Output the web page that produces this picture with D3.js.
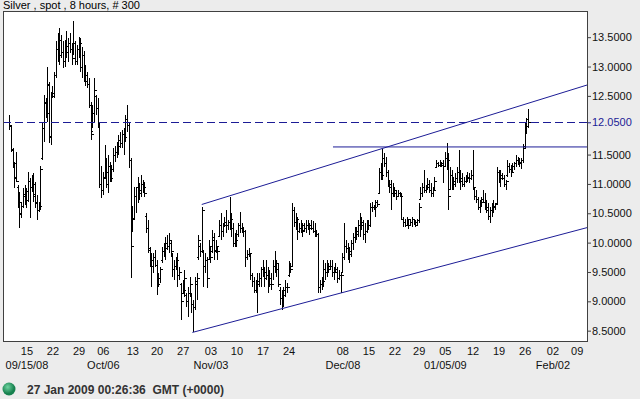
<!DOCTYPE html>
<html>
<head>
<meta charset="utf-8">
<script src="https://cdn.jsdelivr.net/npm/d3@7"></script>
<style>
  body { margin: 0; background: #ececec; }
  svg text { font-family: "Liberation Sans", Arial, sans-serif; }
</style>
</head>
<body>
<svg id="graf" width="640" height="399"></svg>
<script>
// datos: barras de 8 horas (indice de barra 0..299)
const hi = [
  12.18,12.01,11.61,11.38,11.55,10.98,10.87,10.70,10.93,10.98,
  10.93,11.21,11.10,11.15,11.18,11.04,10.81,10.70,11.30,12.06,
  12.52,12.46,13.00,12.74,12.57,12.66,12.91,13.43,13.57,13.65,
  13.54,13.43,13.45,13.60,13.48,13.57,13.40,13.77,13.43,13.37,
  13.51,13.48,13.34,13.26,13.03,12.91,12.80,12.40,12.35,12.80,
  12.52,12.46,12.06,11.30,11.21,11.66,11.44,11.49,11.38,11.32,
  11.61,11.64,11.72,11.83,11.89,11.92,11.95,12.17,12.35,12.06,
  11.44,10.62,10.95,10.95,11.12,11.01,11.15,11.07,11.04,10.50,
  10.39,9.93,9.82,9.82,9.88,9.70,9.48,9.59,9.93,9.99,
  10.10,10.13,10.16,10.04,9.82,9.70,9.76,9.82,9.59,9.31,
  9.36,9.53,9.14,9.25,9.42,9.14,9.02,9.42,9.48,10.13,
  9.99,10.61,9.88,9.82,9.76,10.04,9.93,10.22,10.16,10.04,
  9.93,10.39,10.50,10.33,10.44,10.56,10.39,10.78,10.50,10.33,
  10.16,10.22,10.33,10.53,10.33,10.27,10.22,9.88,9.90,9.82,
  9.48,9.42,9.36,9.48,9.48,9.59,9.70,9.59,9.70,9.59,
  9.53,9.48,9.70,9.85,9.70,9.65,9.25,9.19,9.25,9.36,
  9.31,9.68,9.65,10.67,10.61,10.50,10.44,10.33,10.39,10.33,
  10.33,10.39,10.39,10.33,10.39,10.36,10.33,10.22,10.16,9.36,
  9.42,9.70,9.65,9.70,9.65,9.70,9.70,9.59,9.65,9.59,
  9.53,9.48,9.82,10.33,10.04,9.99,9.93,10.04,10.16,10.27,
  10.27,10.39,10.50,10.44,10.39,10.33,10.39,10.39,10.67,10.70,
  10.64,10.73,10.73,11.27,11.35,11.59,11.52,11.46,11.24,11.07,
  11.07,11.01,10.95,10.90,10.90,10.87,10.84,10.44,10.41,10.44,
  10.39,10.41,10.44,10.41,10.39,10.41,10.67,10.95,11.01,11.24,
  10.98,11.10,11.07,11.01,10.95,11.12,11.41,11.38,11.41,11.38,
  11.41,11.55,11.69,11.52,11.29,11.24,11.12,11.18,11.29,11.58,
  11.24,11.18,11.12,11.15,11.21,11.18,11.24,11.58,10.95,10.90,
  10.78,10.73,10.78,10.90,10.84,10.73,10.67,10.61,10.67,10.73,
  10.67,11.29,11.24,11.24,11.18,11.15,11.07,11.41,11.35,11.32,
  11.35,11.38,11.49,11.46,11.44,11.45,11.68,12.05,12.12,12.28
]
const lo = [
  11.92,11.55,11.27,10.93,11.04,10.59,10.25,10.42,10.59,10.64,
  10.59,10.70,10.42,10.87,10.70,10.59,10.39,10.53,10.56,11.41,
  11.72,12.12,12.06,11.69,11.66,12.46,12.46,12.80,13.08,13.03,
  13.14,12.97,13.00,13.14,13.08,13.23,13.03,13.20,13.03,13.03,
  13.14,12.91,12.80,12.74,12.66,12.63,12.29,11.75,11.95,12.06,
  12.18,11.95,10.93,10.76,10.81,11.10,10.93,10.84,11.04,11.04,
  11.21,11.38,11.44,11.49,11.61,11.61,11.49,11.72,11.89,11.27,
  9.39,10.18,10.39,10.50,10.67,10.73,10.78,10.84,10.78,10.16,
  9.82,9.59,9.25,9.48,9.59,9.11,9.25,9.31,9.65,9.76,
  9.70,9.88,9.82,9.76,9.42,9.36,9.53,9.25,9.36,8.68,
  9.14,9.08,8.91,8.74,9.08,8.80,8.48,8.85,9.02,9.70,
  9.76,9.82,9.25,9.48,9.22,9.70,9.65,9.82,9.70,9.82,
  9.70,10.10,10.04,10.10,10.27,10.16,10.22,10.22,10.10,9.93,
  9.93,9.93,10.10,10.16,10.16,10.10,9.59,9.70,9.76,9.36,
  9.25,9.14,9.14,8.80,9.25,9.25,9.42,9.25,9.36,9.14,
  9.25,9.19,9.36,9.48,9.42,9.25,8.94,8.85,8.91,9.08,
  9.14,9.42,9.48,9.59,10.27,10.22,10.04,10.16,10.16,10.10,
  10.22,10.16,10.22,10.13,10.22,10.16,10.10,10.10,9.14,9.14,
  9.19,9.25,9.36,9.42,9.48,9.53,9.42,9.36,9.48,9.31,
  9.36,9.14,9.48,9.70,9.82,9.70,9.65,9.76,9.88,9.99,
  10.04,10.10,10.10,10.22,10.04,9.99,10.16,10.22,10.27,10.53,
  10.56,10.44,10.61,10.84,11.07,11.07,11.29,11.12,10.95,10.84,
  10.56,10.78,10.78,10.73,10.78,10.78,10.39,10.27,10.27,10.30,
  10.24,10.30,10.27,10.30,10.27,10.30,10.33,10.73,10.78,10.84,
  10.84,10.90,10.84,10.78,10.78,10.90,11.27,11.29,11.29,11.29,
  11.01,11.29,11.24,10.56,10.90,10.90,10.90,10.95,11.01,11.01,
  10.90,10.95,10.95,11.01,11.04,11.01,11.07,10.90,10.73,10.67,
  10.56,10.50,10.61,10.67,10.56,10.50,10.39,10.33,10.44,10.50,
  10.56,10.67,11.01,10.95,11.07,10.95,10.90,11.12,11.18,11.12,
  11.18,11.24,11.29,11.32,11.29,11.25,11.35,11.62,11.85,11.95
]
const op = [
  12.05,11.98,11.58,11.33,11.12,10.95,10.72,10.48,10.62,10.82,
  10.70,10.88,11.05,10.95,11.02,10.82,10.68,10.56,10.62,11.45,
  11.95,12.38,12.20,12.68,11.82,12.50,12.55,12.85,13.30,13.22,
  13.45,13.25,13.10,13.35,13.25,13.40,13.30,13.15,13.40,13.10,
  13.30,13.40,13.00,13.20,12.85,12.75,12.70,12.35,11.90,12.20,
  12.50,12.30,12.05,11.00,10.90,11.12,11.20,11.00,11.30,11.10,
  11.25,11.50,11.55,11.65,11.75,11.70,11.85,11.80,12.10,12.00,
  11.40,10.20,10.42,10.80,10.95,10.85,10.90,11.00,10.95,10.45,
  10.25,9.88,9.70,9.60,9.75,9.62,9.30,9.40,9.70,9.85,
  9.90,10.00,9.95,10.00,9.80,9.55,9.60,9.70,9.45,9.30,
  9.15,9.20,9.10,9.00,9.15,9.10,8.95,8.90,9.30,9.75,
  9.95,9.85,9.85,9.60,9.70,9.72,9.90,9.85,10.05,9.88,
  9.90,10.12,10.30,10.20,10.30,10.35,10.30,10.35,10.40,10.25,
  10.00,10.05,10.15,10.30,10.25,10.20,10.20,9.75,9.80,9.80,
  9.45,9.35,9.20,9.30,9.35,9.40,9.55,9.50,9.40,9.45,
  9.30,9.40,9.30,9.60,9.65,9.55,9.20,9.05,9.10,9.20,
  9.25,9.45,9.60,9.60,10.55,10.35,10.40,10.20,10.25,10.30,
  10.22,10.25,10.30,10.25,10.30,10.25,10.20,10.15,10.15,9.25,
  9.30,9.35,9.55,9.50,9.60,9.55,9.60,9.50,9.50,9.55,
  9.40,9.45,9.50,9.75,9.95,9.90,9.80,9.85,10.00,10.10,
  10.15,10.20,10.30,10.35,10.30,10.15,10.20,10.30,10.30,10.60,
  10.60,10.60,10.70,10.85,11.20,11.15,11.45,11.35,11.20,11.00,
  10.95,10.85,10.90,10.85,10.80,10.85,10.80,10.40,10.35,10.30,
  10.38,10.30,10.35,10.40,10.35,10.30,10.38,10.75,10.85,10.95,
  10.90,10.95,11.00,10.90,10.85,10.90,11.28,11.35,11.32,11.35,
  11.32,11.30,11.45,11.40,10.92,11.15,11.00,11.05,11.10,11.20,
  11.10,11.05,11.00,11.05,11.10,11.12,11.10,11.15,10.93,10.80,
  10.75,10.60,10.70,10.75,10.70,10.60,10.55,10.45,10.55,10.60,
  10.62,10.68,11.20,11.10,11.15,11.10,11.00,11.15,11.30,11.25,
  11.20,11.30,11.35,11.40,11.38,11.35,11.40,11.65,11.98,12.10
]
const cl = [
  12.00,11.60,11.35,11.10,11.05,10.70,10.50,10.62,10.80,10.72,
  10.88,11.05,10.95,11.00,10.80,10.70,10.55,10.62,11.25,11.95,
  12.40,12.20,12.70,11.80,12.50,12.55,12.85,13.30,13.20,13.45,
  13.25,13.10,13.35,13.25,13.40,13.30,13.15,13.40,13.10,13.30,
  13.40,13.00,13.20,12.85,12.75,12.70,12.35,11.85,12.20,12.60,
  12.30,12.05,11.00,10.90,11.10,11.20,11.00,11.30,11.10,11.25,
  11.50,11.55,11.65,11.75,11.70,11.85,11.80,12.10,12.00,11.40,
  9.95,10.40,10.80,10.95,10.85,10.90,11.00,10.95,10.85,10.25,
  9.90,9.70,9.60,9.75,9.62,9.30,9.40,9.55,9.85,9.90,
  10.00,9.95,10.05,9.85,9.55,9.60,9.70,9.45,9.50,9.00,
  9.20,9.40,9.00,9.15,9.30,8.95,8.90,9.35,9.40,10.05,
  9.85,10.55,9.60,9.70,9.40,9.95,9.75,10.10,9.85,9.95,
  9.85,10.30,10.20,10.30,10.35,10.30,10.35,10.40,10.25,10.00,
  10.05,10.15,10.30,10.25,10.20,10.20,9.75,9.80,9.82,9.45,
  9.35,9.20,9.30,9.35,9.40,9.55,9.50,9.40,9.45,9.30,
  9.40,9.30,9.60,9.65,9.55,9.30,9.05,9.10,9.20,9.25,
  9.25,9.60,9.55,10.55,10.35,10.40,10.20,10.25,10.30,10.20,
  10.25,10.30,10.25,10.30,10.25,10.20,10.15,10.15,9.25,9.30,
  9.35,9.55,9.50,9.60,9.55,9.60,9.50,9.50,9.55,9.40,
  9.45,9.45,9.75,9.95,9.90,9.80,9.85,10.00,10.10,10.15,
  10.20,10.30,10.35,10.30,10.15,10.20,10.30,10.30,10.60,10.60,
  10.60,10.70,10.65,11.20,11.15,11.45,11.35,11.20,11.00,10.95,
  10.85,10.90,10.85,10.80,10.85,10.80,10.40,10.35,10.30,10.40,
  10.30,10.35,10.40,10.35,10.30,10.38,10.60,10.85,10.95,10.90,
  10.95,11.00,10.90,10.85,10.90,11.05,11.35,11.32,11.35,11.32,
  11.30,11.45,11.40,10.80,11.15,11.00,11.05,11.10,11.20,11.10,
  11.05,11.00,11.05,11.10,11.12,11.10,11.15,10.95,10.80,10.75,
  10.60,10.70,10.75,10.70,10.60,10.55,10.45,10.55,10.60,10.62,
  10.65,11.20,11.10,11.15,11.10,11.00,11.05,11.30,11.25,11.20,
  11.30,11.35,11.40,11.38,11.35,11.40,11.62,11.98,12.10,12.05
]

// etiquetas del eje x (indice de barra del lunes)
const weekIdx    = [10, 25, 40, 54, 71, 85, 100, 116, 131, 146, 161, 192, 207, 222, 236, 251, 267, 282, 297, 313, 327]
const weekLabels = ['15','22','29','06','13','20','27','03','10','17','24','08','15','22','29','05','12','19','26','02','09']
const monthIdx    = [10, 54, 116, 192, 251, 313]
const monthLabels = ['09/15/08', 'Oct/06', 'Nov/03', 'Dec/08', '01/05/09', 'Feb/02']

const yTicks = [8.5, 9, 9.5, 10, 10.5, 11, 11.5, 12.5, 13, 13.5]

// lineas dibujadas sobre el grafico [indice, precio]
const canalSup  = [[111, 10.65], [333.5, 12.69]]
const canalInf  = [[105.6, 8.47], [333.5, 10.26]]
const resist    = [[186.6, 11.63], [333.5, 11.63]]
const ultimo    = 12.05

const titulo = 'Silver , spot , 8 hours, # 300'
const fecha  = '27 Jan 2009 00:26:36  GMT (+0000)'

// I. Configuracion
const svg = d3.select('#graf')
const margins = { top: 11, left: 3, right: 52, bottom: 57 }
const ancho = 640 - margins.left - margins.right
const alto  = 399 - margins.top - margins.bottom

const bars = hi.map((h, i) => ({ i, h, l: lo[i], o: op[i], c: cl[i] }))

const x = d3.scaleLinear().domain([-3.5, 333.5]).range([0, ancho])
const y = d3.scaleLinear().domain([8.307, 13.946]).range([alto, 0])

const azul = '#1c1c96'

svg.append('text')
   .attr('x', 3).attr('y', 9)
   .style('font-size', '11px')
   .attr('fill', '#000')
   .text(titulo)

const g = svg.append('g')
             .attr('transform', `translate(${margins.left}, ${margins.top})`)

g.append('rect')
 .attr('width', ancho).attr('height', alto)
 .attr('fill', '#fff')

// II. Barras OHLC
const ohlc = g.append('g')
              .attr('stroke', '#000')
              .attr('stroke-width', 1)
              .attr('shape-rendering', 'crispEdges')

ohlc.selectAll('line.hl')
    .data(bars)
    .enter().append('line')
      .attr('class', 'hl')
      .attr('x1', d => Math.round(x(d.i)) + 0.5)
      .attr('x2', d => Math.round(x(d.i)) + 0.5)
      .attr('y1', d => y(d.h))
      .attr('y2', d => y(d.l))

ohlc.selectAll('line.o')
    .data(bars)
    .enter().append('line')
      .attr('class', 'o')
      .attr('x1', d => Math.round(x(d.i)) - 1.5)
      .attr('x2', d => Math.round(x(d.i)) + 0.5)
      .attr('y1', d => Math.round(y(d.o)) + 0.5)
      .attr('y2', d => Math.round(y(d.o)) + 0.5)

ohlc.selectAll('line.c')
    .data(bars)
    .enter().append('line')
      .attr('class', 'c')
      .attr('x1', d => Math.round(x(d.i)) + 0.5)
      .attr('x2', d => Math.round(x(d.i)) + 2.5)
      .attr('y1', d => Math.round(y(d.c)) + 0.5)
      .attr('y2', d => Math.round(y(d.c)) + 0.5)

// III. Lineas de tendencia
const linea = d3.line().x(d => x(d[0])).y(d => y(d[1]))
;[canalSup, canalInf, resist].forEach(pts => {
  g.append('path')
   .attr('d', linea(pts))
   .attr('fill', 'none')
   .attr('stroke', azul)
   .attr('stroke-width', 1)
})

g.append('line')
 .attr('x1', 0).attr('x2', ancho)
 .attr('y1', Math.round(y(ultimo)) + 0.5).attr('y2', Math.round(y(ultimo)) + 0.5)
 .attr('stroke', azul)
 .attr('stroke-dasharray', '8,4')

// marco
g.append('rect')
 .attr('x', 0.5).attr('y', 0.5)
 .attr('width', ancho - 1).attr('height', alto - 1)
 .attr('fill', 'none')
 .attr('stroke', '#404040')

// IV. Ejes
const yAxis = g.append('g')
               .attr('transform', `translate(${ancho}, 0)`)
               .call(d3.axisRight(y).tickValues(yTicks).tickFormat(d3.format('.4f'))
                       .tickSize(3).tickPadding(1))
yAxis.select('.domain').remove()
yAxis.selectAll('line').attr('stroke', '#404040')
yAxis.selectAll('text')
     .style('font-size', '11px')
     .attr('fill', '#111')

const yUlt = g.append('g')
              .attr('transform', `translate(${ancho}, 0)`)
              .call(d3.axisRight(y).tickValues([ultimo]).tickFormat(d3.format('.4f'))
                      .tickSize(3).tickPadding(1))
yUlt.select('.domain').remove()
yUlt.selectAll('line').attr('stroke', azul)
yUlt.selectAll('text')
    .style('font-size', '11px')
    .attr('fill', azul)

const xAxis = g.append('g')
               .attr('transform', `translate(0, ${alto})`)
               .call(d3.axisBottom(x).tickValues(weekIdx)
                       .tickFormat((d, k) => weekLabels[k])
                       .tickSize(0).tickPadding(5))
xAxis.select('.domain').remove()
xAxis.selectAll('text')
     .style('font-size', '11px')
     .attr('fill', '#111')

const xMes = g.append('g')
              .attr('transform', `translate(0, ${alto + 14})`)
              .call(d3.axisBottom(x).tickValues(monthIdx)
                      .tickFormat((d, k) => monthLabels[k])
                      .tickSize(0).tickPadding(5))
xMes.select('.domain').remove()
xMes.selectAll('text')
    .style('font-size', '11px')
    .attr('fill', '#111')

// V. Pie
const grad = svg.append('defs').append('radialGradient')
                .attr('id', 'bola').attr('cx', '40%').attr('cy', '35%')
grad.append('stop').attr('offset', '0%').attr('stop-color', '#6fd3a0')
grad.append('stop').attr('offset', '100%').attr('stop-color', '#17814f')

svg.append('circle')
   .attr('cx', 9).attr('cy', 389).attr('r', 6.5)
   .attr('fill', 'url(#bola)')

svg.append('text')
   .attr('x', 27).attr('y', 394)
   .style('font-size', '12px')
   .style('font-weight', 'bold')
   .style('white-space', 'pre')
   .attr('fill', '#333')
   .text(fecha)
</script>
</body>
</html>
